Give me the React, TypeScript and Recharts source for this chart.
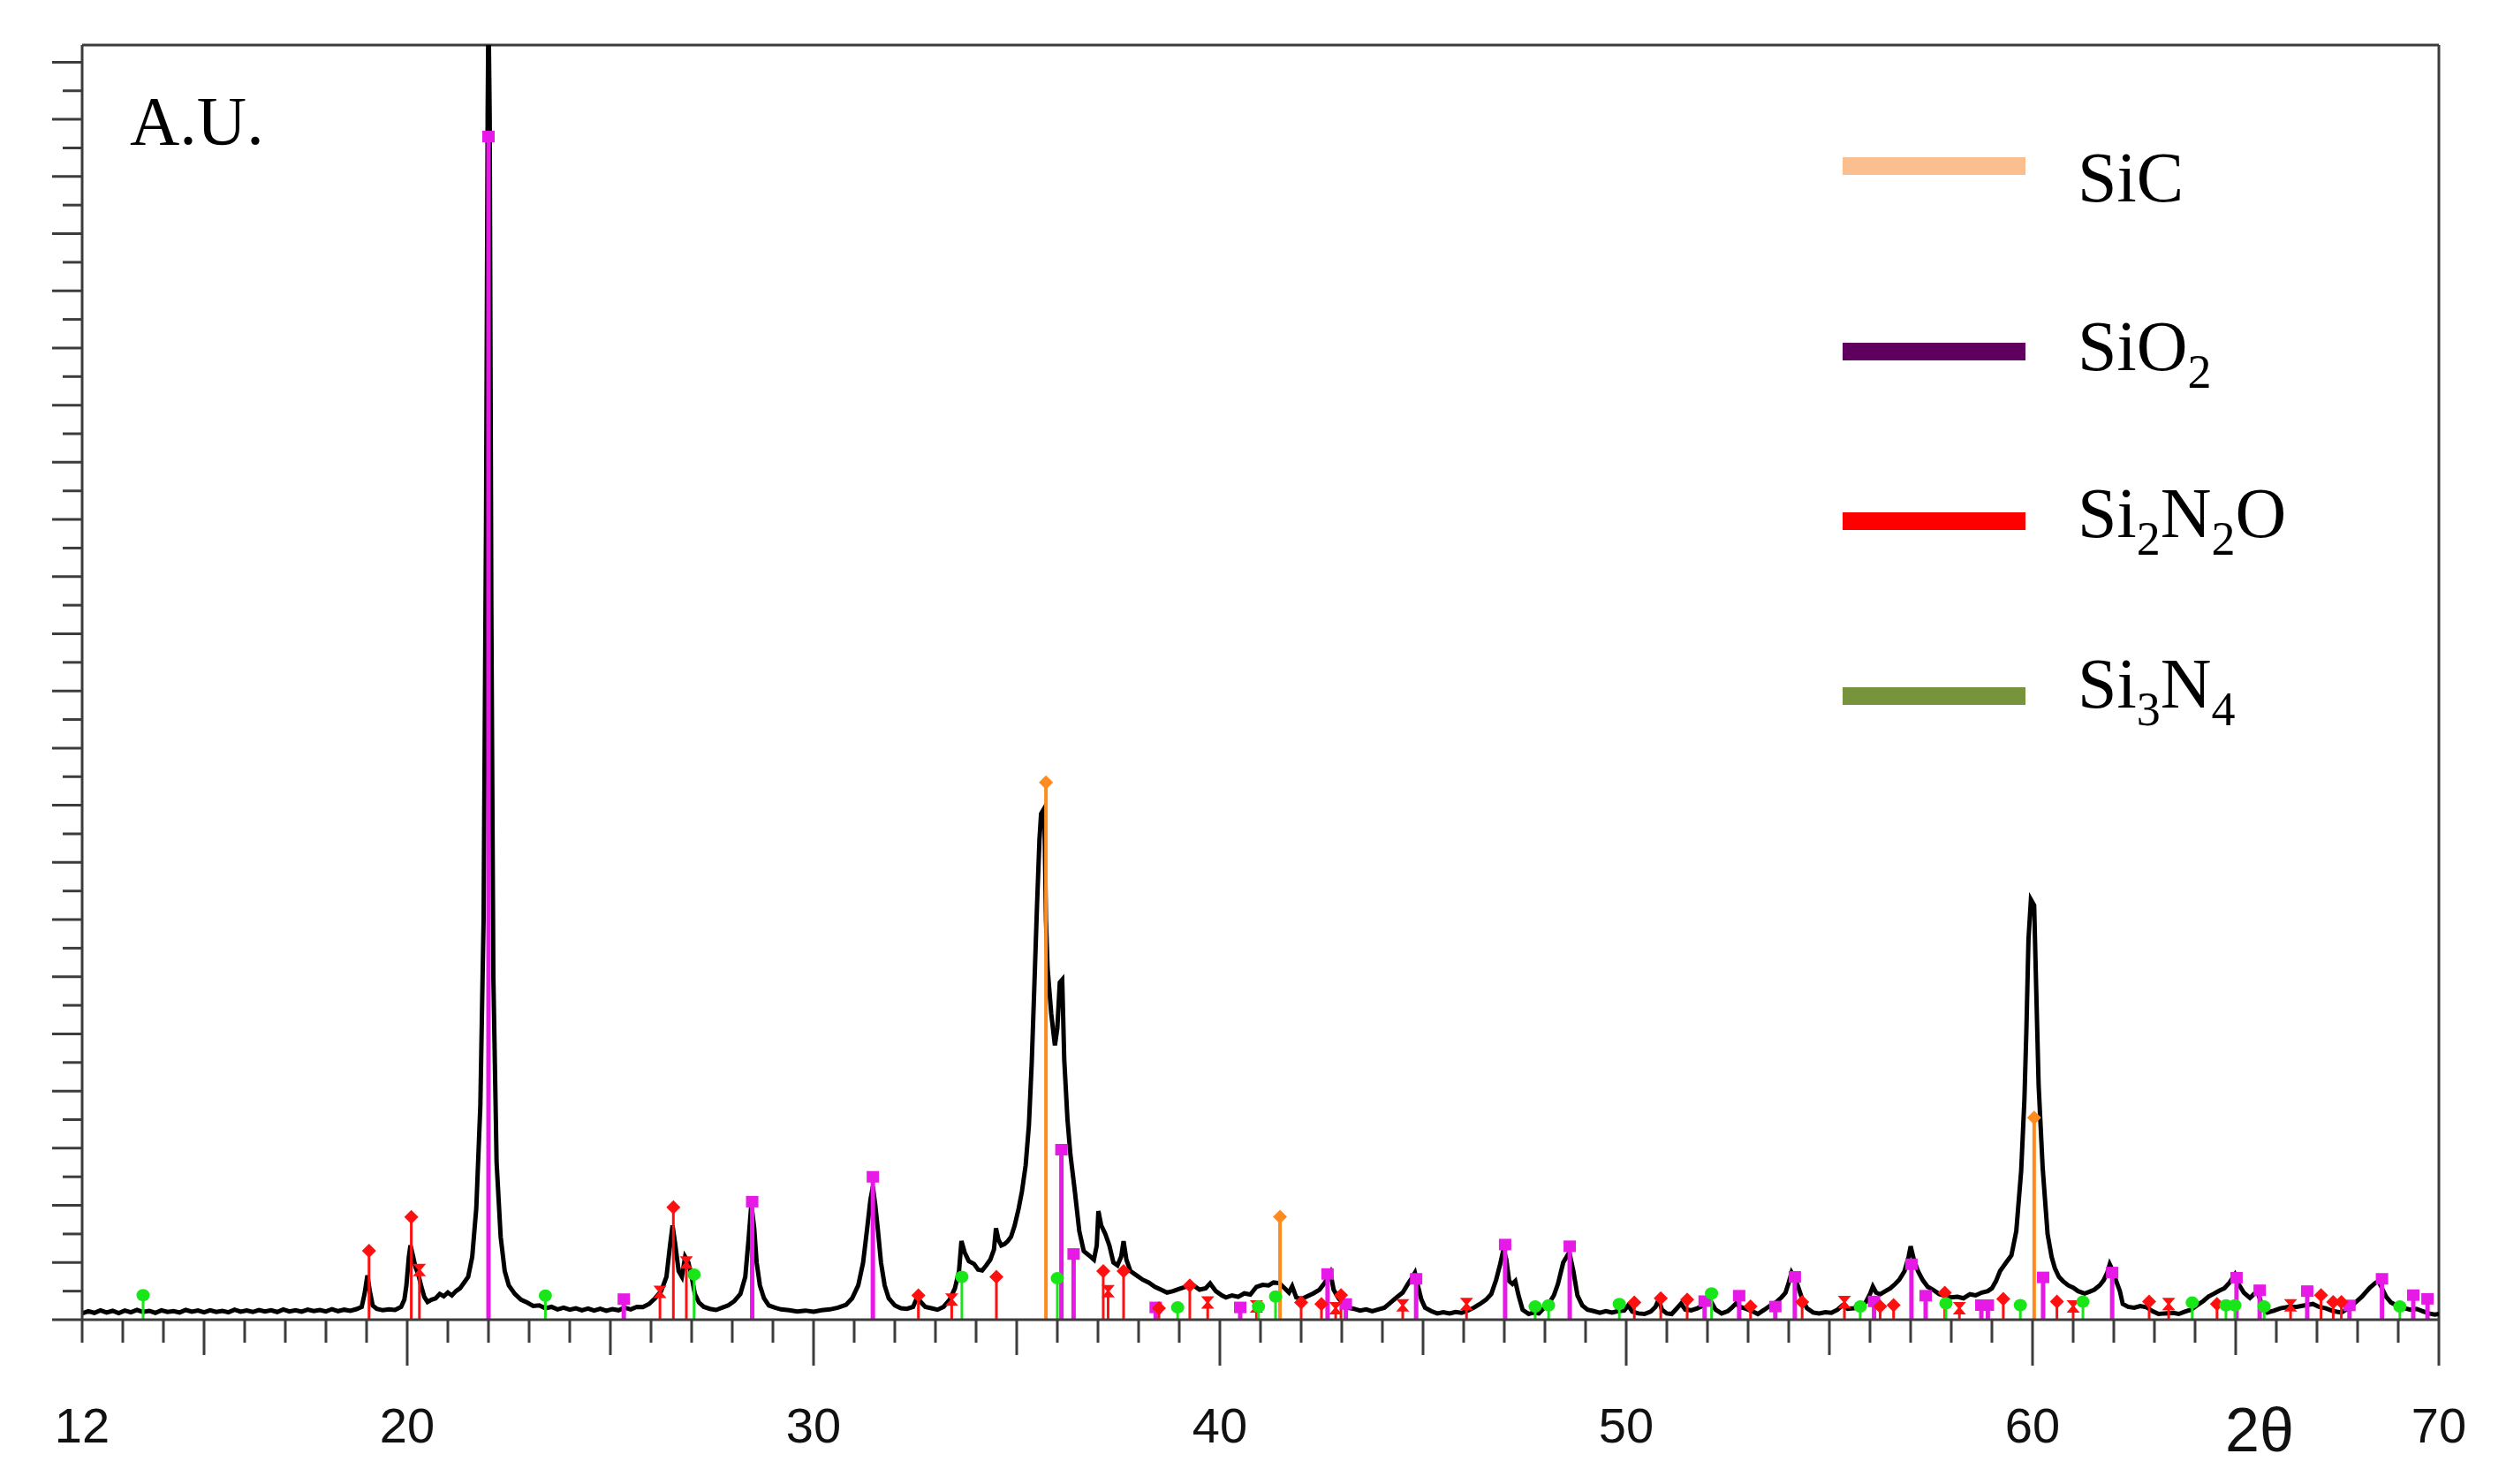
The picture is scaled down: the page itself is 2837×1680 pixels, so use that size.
import React from 'react';
import { ComposedChart, Line, Scatter, XAxis, YAxis, ReferenceLine, Legend, Label } from 'recharts';

// ---------- DATA ----------
// measured XRD pattern [2theta, intensity (A.U.)]
const spectrum: [number, number][] = [
  [12.0,0.22],[12.15,0.3],[12.3,0.24],[12.45,0.33],[12.6,0.25],[12.75,0.31],[12.9,0.23],[13.05,0.32],[13.2,0.26],[13.35,0.34],
  [13.5,0.27],[13.65,0.31],[13.8,0.24],[13.95,0.33],[14.1,0.27],[14.25,0.3],[14.4,0.25],[14.55,0.34],[14.7,0.28],[14.85,0.32],
  [15.0,0.26],[15.15,0.33],[15.3,0.27],[15.45,0.31],[15.6,0.26],[15.75,0.35],[15.9,0.28],[16.05,0.32],[16.2,0.27],[16.35,0.34],
  [16.5,0.29],[16.65,0.33],[16.8,0.27],[16.95,0.36],[17.1,0.29],[17.25,0.33],[17.4,0.28],[17.55,0.35],[17.7,0.3],[17.85,0.34],
  [18.0,0.29],[18.15,0.37],[18.3,0.3],[18.45,0.35],[18.6,0.31],[18.75,0.37],[18.88,0.45],[18.95,0.9],[19.02,1.55],[19.08,1.0],
  [19.15,0.5],[19.25,0.38],[19.4,0.33],[19.55,0.36],[19.7,0.34],[19.85,0.45],[19.93,0.7],[19.98,1.2],[20.04,2.2],[20.08,2.6],
  [20.14,2.25],[20.2,1.85],[20.27,1.6],[20.34,1.2],[20.42,0.8],[20.5,0.62],[20.6,0.7],[20.7,0.75],[20.8,0.9],[20.9,0.82],
  [21.0,0.95],[21.1,0.85],[21.2,1.0],[21.3,1.1],[21.4,1.3],[21.5,1.5],[21.6,2.2],[21.7,3.9],[21.8,7.5],[21.88,14],
  [21.94,28],[21.98,42.2],[22.0,46],[22.03,42],[22.07,25],[22.12,12],[22.2,5.5],[22.3,2.9],[22.4,1.7],[22.5,1.2],
  [22.65,0.9],[22.8,0.7],[22.95,0.6],[23.1,0.48],[23.25,0.5],[23.4,0.4],[23.55,0.45],[23.7,0.36],[23.85,0.42],[24.0,0.35],
  [24.15,0.4],[24.3,0.33],[24.45,0.39],[24.6,0.32],[24.75,0.38],[24.9,0.31],[25.05,0.37],[25.2,0.33],[25.35,0.42],[25.5,0.36],
  [25.65,0.45],[25.8,0.44],[25.95,0.55],[26.1,0.75],[26.25,1.0],[26.38,1.5],[26.46,2.5],[26.53,3.3],[26.6,2.6],[26.68,1.7],
  [26.76,1.5],[26.84,2.2],[26.92,2.0],[27.0,1.5],[27.08,0.9],[27.18,0.6],[27.3,0.45],[27.45,0.38],[27.6,0.34],[27.75,0.42],
  [27.9,0.5],[28.05,0.65],[28.2,0.9],[28.32,1.5],[28.4,2.8],[28.47,4.05],[28.54,3.2],[28.6,2.0],[28.68,1.2],[28.78,0.75],
  [28.9,0.5],[29.05,0.42],[29.2,0.36],[29.4,0.33],[29.6,0.29],[29.8,0.32],[30.0,0.28],[30.2,0.33],[30.4,0.36],[30.6,0.42],
  [30.8,0.52],[30.95,0.75],[31.1,1.2],[31.22,2.0],[31.32,3.2],[31.4,4.2],[31.46,4.65],[31.52,4.0],[31.58,3.2],[31.66,2.0],
  [31.75,1.2],[31.85,0.75],[32.0,0.5],[32.15,0.4],[32.3,0.38],[32.45,0.45],[32.55,0.78],[32.65,0.6],[32.75,0.45],[32.9,0.4],
  [33.05,0.35],[33.2,0.45],[33.35,0.7],[33.48,1.1],[33.58,1.7],[33.64,2.75],[33.72,2.35],[33.82,2.05],[33.95,1.95],[34.05,1.75],
  [34.15,1.72],[34.25,1.9],[34.35,2.1],[34.44,2.45],[34.49,3.2],[34.55,2.8],[34.62,2.6],[34.7,2.65],[34.78,2.75],[34.86,2.9],
  [34.95,3.3],[35.05,3.9],[35.13,4.5],[35.22,5.4],[35.3,6.8],[35.37,9.0],[35.43,11.5],[35.5,14.5],[35.56,16.8],[35.6,17.7],
  [35.68,17.9],[35.72,14.0],[35.76,12.3],[35.85,10.7],[35.94,9.6],[36.0,10.2],[36.06,11.8],[36.12,11.9],[36.17,9.1],[36.25,7.0],
  [36.32,5.8],[36.43,4.5],[36.54,3.1],[36.65,2.4],[36.78,2.25],[36.9,2.1],[36.97,2.6],[37.01,3.8],[37.08,3.3],[37.18,3.0],
  [37.28,2.6],[37.38,2.0],[37.48,1.9],[37.57,2.2],[37.63,2.75],[37.7,2.1],[37.8,1.7],[37.95,1.55],[38.1,1.4],[38.25,1.3],
  [38.4,1.15],[38.55,1.05],[38.7,0.95],[38.85,1.0],[39.0,1.08],[39.15,1.15],[39.33,1.22],[39.5,1.05],[39.65,1.1],[39.76,1.27],
  [39.9,1.0],[40.05,0.85],[40.15,0.78],[40.3,0.85],[40.45,0.8],[40.6,0.92],[40.75,0.88],[40.9,1.15],[41.05,1.22],[41.2,1.2],
  [41.32,1.3],[41.46,1.28],[41.58,1.12],[41.7,0.95],[41.78,1.17],[41.88,0.78],[42.0,0.72],[42.15,0.82],[42.3,0.92],[42.45,1.05],
  [42.56,1.25],[42.65,1.45],[42.72,1.64],[42.8,1.05],[42.92,0.75],[43.05,0.55],[43.15,0.42],[43.3,0.38],[43.45,0.32],[43.6,0.36],
  [43.75,0.3],[43.9,0.36],[44.05,0.42],[44.2,0.6],[44.35,0.78],[44.5,0.95],[44.62,1.23],[44.72,1.45],[44.8,1.64],[44.88,1.15],
  [44.96,0.7],[45.05,0.42],[45.2,0.3],[45.35,0.22],[45.5,0.26],[45.65,0.22],[45.8,0.27],[45.95,0.24],[46.1,0.32],[46.25,0.42],
  [46.4,0.55],[46.55,0.7],[46.68,0.9],[46.8,1.4],[46.9,1.95],[46.98,2.46],[47.05,2.1],[47.12,1.35],[47.2,1.25],[47.27,1.35],
  [47.35,0.85],[47.45,0.35],[47.6,0.2],[47.72,0.25],[47.85,0.22],[48.0,0.45],[48.12,0.62],[48.22,0.85],[48.32,1.25],[48.45,2.0],
  [48.6,2.36],[48.7,1.7],[48.8,0.85],[48.92,0.5],[49.05,0.35],[49.2,0.3],[49.35,0.24],[49.5,0.3],[49.65,0.25],[49.8,0.3],
  [49.95,0.32],[50.05,0.5],[50.15,0.28],[50.3,0.22],[50.45,0.2],[50.6,0.28],[50.72,0.45],[50.8,0.71],[50.88,0.35],[51.0,0.22],
  [51.12,0.2],[51.25,0.4],[51.35,0.56],[51.45,0.36],[51.6,0.33],[51.75,0.4],[51.9,0.5],[52.02,0.78],[52.1,0.6],[52.2,0.35],
  [52.35,0.22],[52.5,0.3],[52.6,0.42],[52.7,0.57],[52.8,0.45],[52.95,0.38],[53.1,0.3],[53.24,0.2],[53.4,0.35],[53.55,0.5],
  [53.7,0.62],[53.82,0.78],[53.92,0.94],[54.0,1.3],[54.07,1.65],[54.15,1.45],[54.22,1.2],[54.33,0.73],[54.45,0.4],[54.6,0.25],
  [54.75,0.22],[54.9,0.26],[55.05,0.24],[55.2,0.35],[55.32,0.5],[55.45,0.38],[55.6,0.4],[55.75,0.45],[55.9,0.62],[56.0,0.9],
  [56.07,1.16],[56.15,0.95],[56.25,0.89],[56.38,1.0],[56.5,1.1],[56.62,1.25],[56.72,1.4],[56.85,1.7],[56.95,2.2],[57.0,2.57],
  [57.08,2.1],[57.18,1.7],[57.3,1.38],[57.42,1.15],[57.55,1.05],[57.7,0.9],[57.85,0.83],[58.0,0.78],[58.15,0.8],[58.3,0.75],
  [58.46,0.89],[58.6,0.85],[58.75,0.95],[58.9,1.0],[59.0,1.1],[59.1,1.35],[59.2,1.7],[59.35,2.0],[59.48,2.25],[59.6,3.1],
  [59.72,5.2],[59.8,7.7],[59.85,10.2],[59.9,13.3],[59.96,14.7],[60.04,14.5],[60.09,11.6],[60.15,8.2],[60.25,5.3],[60.37,3.0],
  [60.47,2.2],[60.55,1.8],[60.65,1.5],[60.75,1.35],[60.88,1.2],[61.0,1.12],[61.12,1.0],[61.28,0.92],[61.4,0.98],[61.52,1.05],
  [61.65,1.2],[61.75,1.38],[61.84,1.65],[61.9,1.94],[61.98,1.7],[62.06,1.35],[62.15,1.0],[62.22,0.55],[62.35,0.45],[62.5,0.42],
  [62.65,0.48],[62.8,0.44],[62.95,0.3],[63.1,0.2],[63.25,0.22],[63.46,0.24],[63.6,0.2],[63.75,0.28],[63.9,0.35],[64.05,0.5],
  [64.2,0.65],[64.33,0.81],[64.45,0.9],[64.6,1.02],[64.72,1.1],[64.85,1.3],[64.98,1.58],[65.08,1.23],[65.2,0.95],[65.35,0.76],
  [65.45,0.9],[65.55,0.92],[65.65,0.5],[65.78,0.25],[65.95,0.32],[66.1,0.4],[66.3,0.45],[66.5,0.45],[66.7,0.5],[66.9,0.55],
  [67.05,0.45],[67.22,0.4],[67.4,0.3],[67.6,0.25],[67.78,0.4],[67.95,0.61],[68.1,0.8],[68.3,1.12],[68.45,1.3],[68.52,1.33],
  [68.6,1.1],[68.7,0.81],[68.82,0.6],[68.96,0.5],[69.1,0.42],[69.3,0.35],[69.45,0.38],[69.6,0.3],[69.75,0.22],[69.9,0.18],
  [70.0,0.2],
];

// reference peak positions [2theta, marker height]
const sio2Peaks: [number, number][] = [
  [22.0,41.4],[25.33,0.72],[28.49,4.13],[31.46,5.0],[36.1,5.95],[36.4,2.3],[38.42,0.43],[40.5,0.43],[42.65,1.6],[43.1,0.55],
  [44.83,1.43],[47.02,2.63],[48.61,2.57],[51.93,0.65],[52.78,0.84],[53.67,0.46],[54.15,1.5],[56.1,0.64],[57.02,1.94],[57.37,0.84],
  [58.74,0.51],[58.9,0.51],[60.26,1.48],[61.96,1.65],[65.02,1.47],[65.59,1.03],[66.76,1.0],[67.8,0.5],[68.6,1.43],[69.37,0.86],[69.72,0.73],
];
const si2n2oPeaks: [number, number][] = [
  [19.06,2.41],[20.1,3.59],[26.55,3.93],[32.58,0.85],[34.5,1.5],[37.13,1.7],[37.63,1.7],[38.5,0.4],[39.26,1.2],[42.0,0.6],
  [42.5,0.55],[42.98,0.86],[50.2,0.6],[50.85,0.75],[51.5,0.7],[53.06,0.46],[54.33,0.62],[56.25,0.46],[56.58,0.51],[57.84,0.94],
  [59.28,0.73],[60.6,0.63],[62.87,0.63],[64.54,0.55],[67.1,0.86],[67.4,0.62],[67.6,0.62],
];
const si2n2oMinorPeaks: [number, number][] = [
  [20.3,1.74],[26.22,0.97],[26.87,2.0],[33.4,0.7],[37.25,1.0],[39.7,0.6],[40.9,0.46],[42.85,0.4],[44.5,0.5],[46.07,0.55],
  [55.37,0.62],[58.2,0.4],[61.0,0.46],[63.35,0.55],[66.35,0.5],
];
const si3n4Peaks: [number, number][] = [
  [13.5,0.86],[23.4,0.84],[27.06,1.58],[33.65,1.5],[36.0,1.45],[38.96,0.43],[40.95,0.46],[41.37,0.81],[47.76,0.46],[48.09,0.5],
  [49.83,0.55],[52.1,0.92],[55.76,0.46],[57.87,0.57],[59.7,0.51],[61.24,0.63],[63.93,0.6],[64.76,0.5],[64.98,0.5],[65.7,0.46],[69.04,0.46],
];
const sicPeaks: [number, number][] = [[35.72,18.8],[41.48,3.6],[60.04,7.07]];

const xTicks: number[] = [12,13,14,15,16,17,18,19,20,21,22,23,24,25,26,27,28,29,30,31,32,33,34,35,36,37,38,39,40,41,42,43,44,45,46,47,48,49,50,51,52,53,54,55,56,57,58,59,60,61,62,63,64,65,66,67,68,69,70];
const xTickLabels: number[] = [12,20,30,40,50,60,70];
const yTicks: number[] = [0,1,2,3,4,5,6,7,8,9,10,11,12,13,14,15,16,17,18,19,20,21,22,23,24,25,26,27,28,29,30,31,32,33,34,35,36,37,38,39,40,41,42,43,44];

const legendNames: { parts: { t: string; sub?: boolean }[] }[] = [
  { parts: [{ t: 'SiC' }] },
  { parts: [{ t: 'SiO' }, { t: '2', sub: true }] },
  { parts: [{ t: 'Si' }, { t: '2', sub: true }, { t: 'N' }, { t: '2', sub: true }, { t: 'O' }] },
  { parts: [{ t: 'Si' }, { t: '3', sub: true }, { t: 'N' }, { t: '4', sub: true }] },
];
const legendColors: string[] = ['#FBBF8F', '#5F005F', '#FF0000', '#77933C'];

// ---------- STYLE ----------
const AXIS = '#3c3c3c';
const MAGENTA = '#E619E6';
const RED = '#FF1010';
const GREEN = '#19E619';
const ORANGE = '#FF8A1E';
const SERIF = '"Liberation Serif", "Times New Roman", serif';
const SANS = '"Liberation Sans", Arial, sans-serif';

const spectrumData = spectrum.map(([x, y]) => ({ x, y }));
const toSticks = (peaks: [number, number][]) =>
  peaks.flatMap(([x, h]) => [{ x, y: 0 }, { x, y: h }, { x, y: null as number | null }]);
const toPoints = (peaks: [number, number][]) => peaks.map(([x, h]) => ({ x, y: h }));

const Square = (p: any) => <rect x={p.cx - 7} y={p.cy - 6.5} width={14} height={13} fill={MAGENTA} />;
const Diamond = (color: string) => (p: any) => (
  <polygon points={`${p.cx - 8},${p.cy} ${p.cx},${p.cy - 8} ${p.cx + 8},${p.cy} ${p.cx},${p.cy + 8}`} fill={color} />
);
const Hourglass = (p: any) => (
  <polygon
    points={`${p.cx - 7.5},${p.cy - 7} ${p.cx + 7.5},${p.cy - 7} ${p.cx + 1.5},${p.cy} ${p.cx + 7.5},${p.cy + 7} ${p.cx - 7.5},${p.cy + 7} ${p.cx - 1.5},${p.cy}`}
    fill={RED}
  />
);
const Dot = (p: any) => <ellipse cx={p.cx} cy={p.cy} rx={7.5} ry={7} fill={GREEN} />;

const XTick = (props: any) => {
  const { x, y, payload } = props;
  const v = payload.value;
  const len = v % 10 === 0 ? 52 : v % 5 === 0 ? 40 : 26;
  return (
    <g>
      <line x1={x} x2={x} y1={y} y2={y + len} stroke={AXIS} strokeWidth={3} />
      {xTickLabels.includes(v) && (
        <text x={x} y={y + 139} textAnchor="middle" fontFamily={SANS} fontSize={56} fill="#111">
          {v}
        </text>
      )}
    </g>
  );
};

const YTick = (props: any) => {
  const { x, y, payload } = props;
  const len = payload.value % 2 === 0 ? 34 : 22;
  return <line x1={x - len} x2={x} y1={y} y2={y} stroke={AXIS} strokeWidth={3} />;
};

const LegendBox = () => {
  const lineY = [188, 398, 590, 788];
  const textY = [228, 419, 608, 801];
  return (
    <svg width={2837} height={1680} style={{ position: 'absolute', left: 0, top: 0, overflow: 'visible', pointerEvents: 'none' }}>
      {legendNames.map((item, i) => (
        <g key={i}>
          <rect x={2086} y={lineY[i] - 10} width={207} height={20} fill={legendColors[i]} />
          <text x={2352} y={textY[i]} fontFamily={SERIF} fontSize={80} fill="#000">
            {item.parts.map((p, j) => {
              const prevSub = j > 0 && item.parts[j - 1].sub;
              const dy = p.sub ? 20 : prevSub ? -20 : 0;
              return (
                <tspan key={j} dy={dy} fontSize={p.sub ? 54 : 80}>
                  {p.t}
                </tspan>
              );
            })}
          </text>
        </g>
      ))}
    </svg>
  );
};

export default function App() {
  return (
    <div style={{ position: 'absolute', left: 0, top: 0, width: 2837, height: 1680, background: '#fff' }}>
      <ComposedChart width={2837} height={1680} margin={{ top: 51, right: 76, bottom: 185, left: 92 }}>
        <XAxis
          dataKey="x"
          type="number"
          domain={[12, 70]}
          allowDataOverflow
          ticks={xTicks}
          interval={0}
          tickSize={0}
          tickMargin={0}
          height={1}
          tick={XTick}
          tickLine={false}
          axisLine={{ stroke: AXIS, strokeWidth: 3 }}
        >
          <Label
            content={(p: any) => (
              <text x={p.viewBox.x + p.viewBox.width - 203} y={p.viewBox.y + 149} textAnchor="middle" fontFamily={SANS} fontSize={70} fill="#111">
                2θ
              </text>
            )}
          />
        </XAxis>
        <YAxis
          type="number"
          domain={[0, 44.6]}
          allowDataOverflow
          ticks={yTicks}
          interval={0}
          tickSize={0}
          tickMargin={0}
          width={1}
          tick={YTick}
          tickLine={false}
          axisLine={{ stroke: AXIS, strokeWidth: 3 }}
        >
          <Label
            content={(p: any) => (
              <text x={p.viewBox.x + p.viewBox.width + 54} y={p.viewBox.y + 112} fontFamily={SERIF} fontSize={78} fill="#000">
                A.U.
              </text>
            )}
          />
        </YAxis>
        <ReferenceLine y={44.6} stroke={AXIS} strokeWidth={3} />
        <ReferenceLine x={70} stroke={AXIS} strokeWidth={3} />

        <Line data={spectrumData} dataKey="y" stroke="#000" strokeWidth={5} strokeLinejoin="miter" dot={false} activeDot={false} isAnimationActive={false} legendType="none" />

        <Line data={toSticks(sio2Peaks)} dataKey="y" stroke={MAGENTA} strokeWidth={5} dot={false} activeDot={false} isAnimationActive={false} connectNulls={false} legendType="none" />
        <Line data={toSticks(si2n2oPeaks)} dataKey="y" stroke={RED} strokeWidth={3} dot={false} activeDot={false} isAnimationActive={false} connectNulls={false} legendType="none" />
        <Line data={toSticks(si2n2oMinorPeaks)} dataKey="y" stroke={RED} strokeWidth={3} dot={false} activeDot={false} isAnimationActive={false} connectNulls={false} legendType="none" />
        <Line data={toSticks(si3n4Peaks)} dataKey="y" stroke={GREEN} strokeWidth={3} dot={false} activeDot={false} isAnimationActive={false} connectNulls={false} legendType="none" />
        <Line data={toSticks(sicPeaks)} dataKey="y" stroke={ORANGE} strokeWidth={4} dot={false} activeDot={false} isAnimationActive={false} connectNulls={false} legendType="none" />

        <Scatter data={toPoints(sio2Peaks)} dataKey="y" shape={Square} isAnimationActive={false} legendType="none" />
        <Scatter data={toPoints(si2n2oPeaks)} dataKey="y" shape={Diamond(RED)} isAnimationActive={false} legendType="none" />
        <Scatter data={toPoints(si2n2oMinorPeaks)} dataKey="y" shape={Hourglass} isAnimationActive={false} legendType="none" />
        <Scatter data={toPoints(si3n4Peaks)} dataKey="y" shape={Dot} isAnimationActive={false} legendType="none" />
        <Scatter data={toPoints(sicPeaks)} dataKey="y" shape={Diamond(ORANGE)} isAnimationActive={false} legendType="none" />

        <Legend
          verticalAlign="bottom"
          layout="horizontal"
          content={() => <LegendBox />}
          wrapperStyle={{ position: 'absolute', left: 0, top: 0, bottom: 'auto', width: 0, height: 0, overflow: 'visible' }}
        />
      </ComposedChart>
    </div>
  );
}
